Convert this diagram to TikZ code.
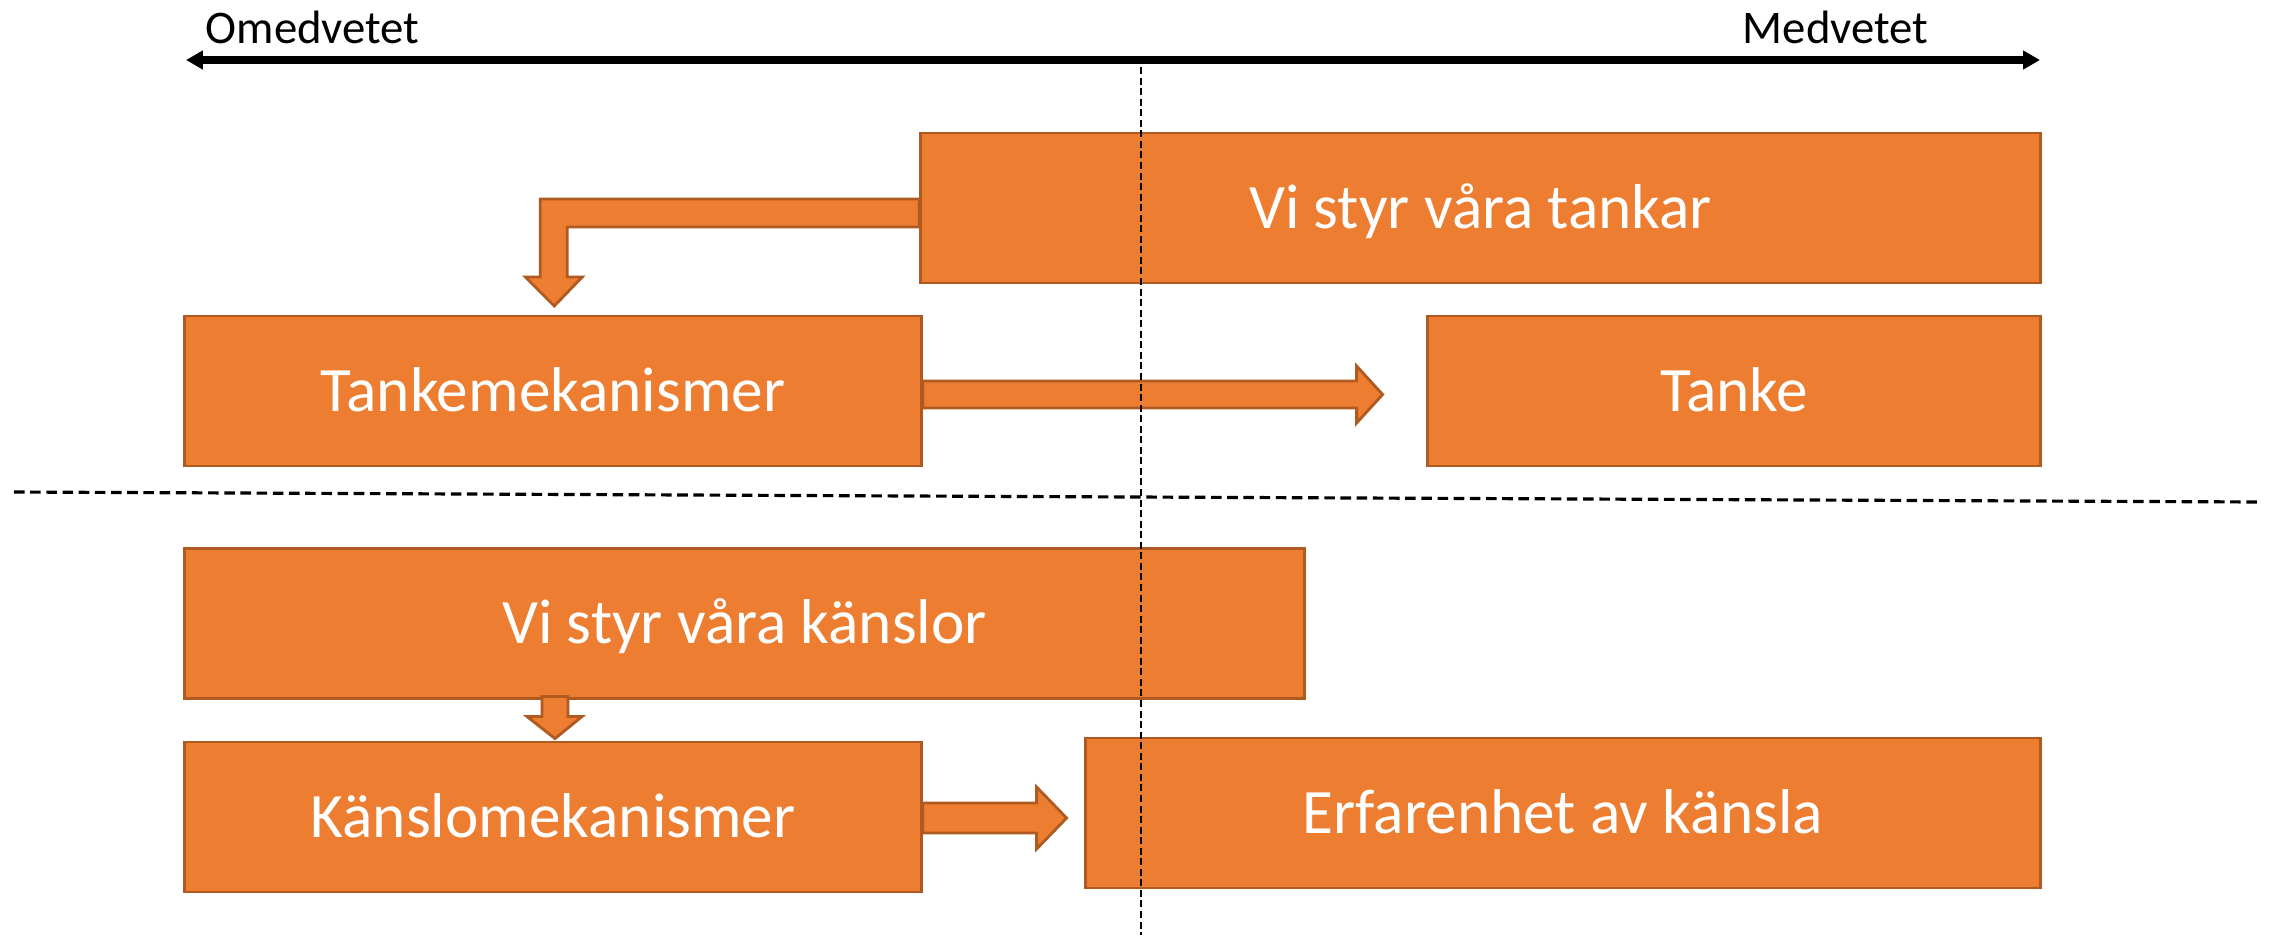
\documentclass[tikz,border=0pt]{standalone}
\usepackage{fontspec}
\setmainfont{Carlito}
\definecolor{boxorange}{RGB}{237, 125, 49}
\definecolor{boxedge}{RGB}{174, 90, 33}
\usetikzlibrary{arrows.meta, positioning, calc}

\begin{document}
\begin{tikzpicture}[x=0.01cm, y=-0.01cm,
  mechbox/.style={draw=boxedge, fill=boxorange, line width=0.8pt, minimum height=1.5cm, inner sep=0pt, text=white, font=\fontsize{18}{22}\selectfont, text height=0.4cm, text depth=0pt},
  blockarr/.style={draw=boxedge, fill=boxorange, line width=0.8pt, line join=miter},
  axislabel/.style={font=\fontsize{13.3}{16}\selectfont, inner sep=0pt},
  dashline/.style={black, line width=0.6pt, dash pattern=on 2pt off 1pt}]
  \useasboundingbox (0,0) rectangle (2274,935);

  % Axis
  \coordinate (axleft) at (186,60);
  \coordinate (axright) at (2040,60);
  \draw[{Triangle[length=4.8pt,width=5.1pt]}-{Triangle[length=4.8pt,width=5.1pt]}, line width=2pt] (axleft) -- (axright);
  \node[axislabel, anchor=base west] (omed) at (205,43) {Omedvetet};
  \node[axislabel, anchor=base east] (med) at (1929,43) {Medvetet};

  % Tankar
  \node[mechbox, minimum width=11.19cm] (tankar) at (1480.5,208) {Vi styr våra tankar};
  \node[mechbox, minimum width=7.36cm] (tmek) at (553,391) {Tankemekanismer};
  \node[mechbox, minimum width=6.12cm] (tanke) at (1734,391) {Tanke};
  \draw[blockarr] ($(tankar.west)+(0,-9)$) -- ++(-379,0) -- ++(0,78) -- ++(-15,0) -- ++(29,29)
    -- ++(28,-29) -- ++(-15,0) -- ++(0,-50) -- ++(352,0) -- cycle;
  \draw[blockarr] ($(tmek.east)+(0,-10)$) -- ++(434,0) -- ++(0,-15) -- ++(26,28.5)
    -- ++(-26,28.5) -- ++(0,-15) -- ++(-434,0) -- cycle;

  % Känslor
  \node[mechbox, minimum width=11.19cm] (kstyr) at (744.5,623.5) {Vi styr våra känslor};
  \node[mechbox, minimum width=7.36cm] (kmek) at (553,817) {Känslomekanismer};
  \node[mechbox, minimum width=9.54cm] (erf) at (1563,813) {Erfarenhet av känsla};
  \draw[blockarr] ($(kmek.north)+(-11,-44)$) -- ++(0,20) -- ++(-15,0) -- ++(28,22)
    -- ++(27,-22) -- ++(-14,0) -- ++(0,-20) -- cycle;
  \draw[blockarr] ($(kmek.east)+(0,-14)$) -- ++(114,0) -- ++(0,-16) -- ++(30,31)
    -- ++(-30,31) -- ++(0,-16) -- ++(-114,0) -- cycle;

  % Dividers
  \coordinate (divtop) at (1141,67);
  \coordinate (divbot) at (1141,935);
  \draw[dashline] (divtop) -- (divbot);
  \coordinate (divleft) at (14,492);
  \coordinate (divright) at (2261,502);
  \draw[dashline, line width=0.9pt, dash pattern=on 3pt off 1.6pt] (divleft) -- (divright);
\end{tikzpicture}
\end{document}
